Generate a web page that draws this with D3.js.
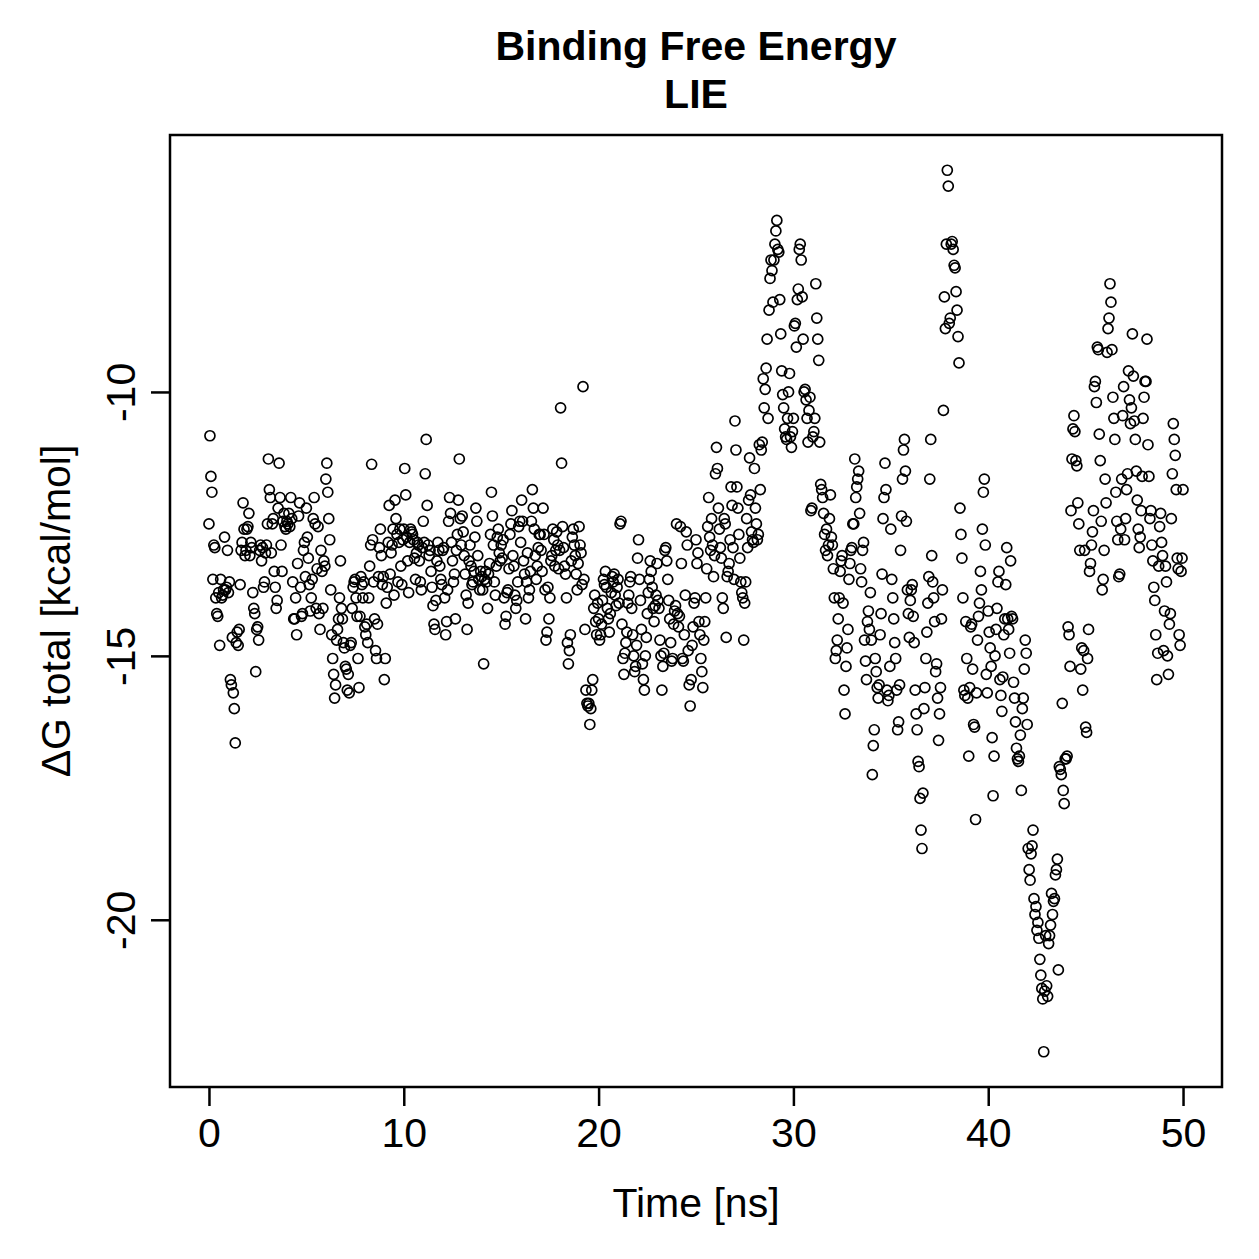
<!DOCTYPE html>
<html>
<head>
<meta charset="utf-8">
<script src="https://cdn.jsdelivr.net/npm/d3@7"></script>
<style>
  body { margin: 0; background: #fff; }
  svg text { font-family: "Liberation Sans", Arial, Helvetica, sans-serif; }
</style>
</head>
<body>
<div id="chart"></div>
<script>
// sampling interval of the trajectory (ns)
const sampleStep = 0.05;
const xTicks = [0, 10, 20, 30, 40, 50];
const yTicks = [-10, -15, -20];

// LIE total binding free energy per frame (kcal/mol), one row per ns
const deltaG = [
  -12.5, -10.83, -11.6, -11.9, -13.55, -12.9, -12.95, -13.9, -14.2, -14.25, -13.8, -14.8, -13.55, -13.9, -13.85, -13.75, -12.75, -13.75, -13.7, -13.0,
  -13.8, -13.6, -15.45, -15.55, -14.65, -15.7, -16.0, -16.65, -14.75, -14.55, -14.8, -14.5, -13.65, -13.0, -12.85, -12.1, -12.6, -13.1, -13.0, -12.6,
  -12.55, -12.3, -13.1, -12.85, -12.95, -13.8, -14.1, -14.2, -15.3, -14.5, -14.45, -14.7, -13.0, -12.9, -13.2, -12.95, -13.7, -13.6, -13.05, -12.9,
  -12.5, -11.27, -11.85, -12.0, -13.05, -12.5, -12.4, -13.4, -13.7, -14.1, -13.95, -12.2, -11.35, -12.0, -12.9, -13.4, -12.45, -12.3, -12.55, -12.6,
  -12.45, -12.5, -12.3, -12.55, -12.0, -12.4, -13.6, -14.3, -14.3, -13.9, -14.6, -13.25, -12.35, -12.1, -13.7, -14.25, -14.2, -13.0, -12.85, -13.5,
  -12.2, -12.75, -13.15, -13.65, -14.15, -13.9, -13.55, -12.4, -12.0, -12.5, -14.1, -13.35, -12.55, -14.2, -14.5, -13.0, -13.4, -14.1, -13.2, -13.3,
  -11.65, -11.35, -11.9, -12.4, -12.8, -13.75, -14.6, -15.05, -15.35, -15.8, -15.55, -14.7, -14.5, -14.3, -13.9, -13.2, -14.1, -14.3, -14.75, -14.85,
  -15.2, -15.25, -15.65, -15.35, -15.7, -14.8, -14.75, -14.1, -13.7, -13.6, -13.55, -13.9, -14.25, -15.05, -15.6, -14.25, -13.5, -13.65, -13.9, -13.6,
  -14.45, -14.6, -14.4, -14.75, -13.9, -13.3, -12.9, -11.37, -12.8, -13.6, -14.3, -14.9, -15.05, -14.4, -13.5, -12.95, -12.6, -13.1, -13.65, -13.5,
  -15.45, -15.05, -14.0, -13.7, -12.85, -12.15, -13.45, -13.05, -12.9, -12.6, -13.85, -12.05, -12.4, -12.7, -13.6, -12.85, -12.6, -13.3, -13.65, -12.8,
  -12.6, -11.45, -11.95, -12.75, -13.2, -13.8, -12.85, -12.6, -12.65, -12.7, -12.8, -13.15, -13.55, -13.05, -12.85, -12.9, -13.2, -13.6, -13.75, -12.95,
  -12.45, -12.85, -11.55, -10.9, -12.15, -12.9, -13.1, -13.0, -13.4, -13.7, -14.05, -14.4, -14.5, -13.95, -13.2, -12.85, -13.0, -13.3, -13.55, -13.65,
  -13.0, -12.95, -13.9, -14.6, -14.35, -13.75, -12.45, -12.0, -12.3, -12.85, -13.2, -13.6, -13.45, -14.3, -13.0, -12.7, -12.05, -11.27, -12.4, -12.9,
  -12.35, -12.65, -13.1, -13.45, -13.85, -14.5, -14.0, -13.2, -12.9, -13.3, -13.65, -13.6, -13.4, -12.75, -12.2, -12.45, -13.1, -13.55, -13.75, -13.4,
  -13.5, -13.75, -15.15, -13.55, -13.4, -13.6, -14.1, -13.45, -13.25, -12.7, -11.9, -12.35, -12.9, -13.6, -13.85, -13.3, -12.75, -12.6, -13.05, -13.2,
  -12.9, -13.15, -12.8, -13.9, -14.4, -14.25, -13.8, -13.75, -13.35, -12.7, -12.5, -12.25, -13.1, -13.3, -13.85, -14.1, -13.95, -13.6, -12.55, -12.45,
  -12.85, -12.05, -12.45, -13.2, -13.45, -14.3, -13.6, -13.05, -13.9, -13.75, -13.4, -12.45, -11.85, -12.2, -12.6, -13.1, -13.55, -13.3, -12.95, -12.7,
  -12.7, -13.0, -13.4, -12.2, -12.7, -13.75, -14.7, -14.55, -13.7, -14.3, -13.9, -13.2, -13.1, -12.6, -12.8, -13.3, -13.0, -12.65, -12.9, -13.35,
  -13.0, -10.3, -11.35, -12.55, -12.95, -13.3, -13.45, -13.9, -14.75, -15.15, -14.9, -14.6, -13.2, -12.75, -12.6, -12.9, -13.1, -13.45, -13.75, -13.25,
  -12.55, -12.9, -13.05, -13.65, -9.9, -13.55, -14.5, -15.65, -15.9, -15.95, -15.9, -16.3, -16.0, -15.65, -15.45, -14.1, -13.85, -14.35, -14.6, -14.0,
  -14.3, -14.7, -14.6, -14.4, -13.95, -13.55, -13.65, -13.4, -13.7, -14.1, -14.3, -14.55, -14.2, -13.8, -13.5, -13.6, -13.45, -13.85, -14.05, -13.7,
  -13.55, -14.0, -12.5, -12.45, -14.4, -15.05, -15.35, -14.95, -14.75, -14.55, -14.0, -13.85, -13.6, -13.5, -14.1, -14.6, -15.0, -15.3, -15.2, -14.8,
  -13.15, -12.8, -13.55, -13.95, -14.5, -15.15, -15.45, -15.65, -15.0, -14.65, -14.2, -13.8, -13.55, -13.2, -13.4, -13.7, -14.1, -14.35, -14.05, -13.85,
  -13.25, -13.95, -14.1, -14.7, -15.0, -15.65, -15.2, -14.95, -13.0, -12.95, -13.2, -13.55, -13.95, -14.3, -14.75, -15.1, -15.05, -14.4, -14.15, -14.05,
  -12.5, -14.2, -14.45, -14.25, -12.55, -13.25, -15.05, -15.1, -14.6, -13.85, -12.65, -12.9, -14.9, -15.55, -15.95, -15.45, -14.8, -14.45, -14.0, -13.9,
  -12.8, -13.25, -13.05, -14.35, -14.6, -15.05, -15.3, -15.6, -14.7, -14.35, -13.9, -13.35, -12.55, -12.0, -12.75, -13.0, -12.4, -12.9, -13.5, -13.1,
  -11.55, -11.05, -11.45, -12.2, -12.6, -12.95, -13.15, -13.9, -14.1, -12.4, -12.5, -14.65, -13.5, -13.4, -13.25, -12.8, -11.8, -12.15, -12.95, -13.55,
  -10.55, -11.1, -11.8, -12.2, -12.7, -13.15, -13.6, -13.8, -13.9, -14.7, -14.0, -13.6, -12.4, -12.95, -12.05, -11.25, -11.95, -12.65, -12.8, -12.85,
  -11.45, -12.2, -12.5, -12.8, -12.7, -11.0, -11.85, -11.1, -10.95, -9.75, -10.3, -9.95, -9.55, -9.0, -10.5, -8.45, -7.85, -7.5, -7.7, -8.3,
  -7.5, -7.2, -6.95, -6.75, -7.3, -7.35, -8.25, -8.9, -9.6, -10.05, -10.3, -10.7, -10.85, -10.9, -10.5, -10.0, -9.65, -10.85, -11.05, -10.75,
  -10.5, -8.75, -8.7, -9.15, -8.25, -8.05, -7.3, -7.2, -7.5, -8.2, -9.0, -10.0, -9.95, -10.15, -10.5, -10.95, -10.35, -10.1, -12.25, -12.2,
  -10.85, -10.75, -10.5, -7.95, -8.6, -9.0, -9.4, -10.95, -11.75, -11.85, -12.0, -12.3, -12.7, -13.0, -12.6, -13.1, -12.9, -12.4, -11.95, -12.75,
  -12.9, -13.35, -13.9, -15.05, -14.9, -14.7, -14.3, -13.9, -13.4, -13.2, -13.1, -14.0, -15.65, -16.1, -15.2, -14.85, -14.5, -13.55, -13.25, -13.0,
  -12.95, -12.5, -12.5, -11.27, -12.0, -11.8, -11.65, -11.5, -12.3, -13.35, -13.6, -13.0, -12.85, -14.7, -15.1, -15.45, -14.35, -14.15, -14.5, -13.8,
  -14.7, -17.25, -16.7, -16.4, -15.05, -15.3, -15.6, -15.8, -15.55, -14.6, -14.2, -13.45, -12.4, -12.0, -11.35, -11.85, -15.65, -15.85, -15.75, -15.2,
  -12.6, -13.55, -13.9, -14.3, -14.75, -15.05, -15.65, -16.4, -16.25, -15.55, -13.0, -12.35, -11.65, -11.1, -10.9, -11.5, -12.45, -13.75, -14.2, -14.65,
  -13.95, -13.75, -13.65, -14.25, -14.75, -15.65, -16.1, -16.4, -17.0, -17.1, -17.7, -18.3, -18.65, -17.6, -16.0, -15.6, -15.05, -14.55, -14.0, -13.5,
  -11.65, -10.9, -13.1, -13.6, -13.9, -14.35, -15.3, -15.15, -15.8, -16.6, -16.1, -15.6, -14.3, -13.75, -10.35, -8.2, -8.8, -7.2, -5.8, -6.1,
  -8.7, -8.6, -7.2, -7.15, -7.3, -7.6, -7.65, -8.1, -8.45, -8.95, -9.45, -12.2, -12.7, -13.15, -13.9, -15.65, -15.75, -14.35, -15.05, -15.8,
  -16.9, -15.6, -14.45, -14.4, -15.25, -16.3, -16.35, -18.1, -15.7, -14.7, -14.25, -14.0, -13.4, -13.75, -12.6, -11.9, -11.65, -12.9, -15.35, -15.7,
  -14.15, -14.55, -14.85, -15.2, -16.55, -17.65, -16.9, -15.0, -14.5, -14.1, -13.6, -13.4, -15.45, -15.75, -16.05, -15.4, -14.6, -14.3, -13.65, -12.95,
  -14.3, -14.5, -14.95, -13.2, -14.25, -14.3, -15.5, -15.8, -16.25, -16.75, -16.95, -17.0, -16.9, -16.5, -17.55, -16.0, -15.8, -15.25, -14.7, -14.95,
  -16.3, -18.65, -19.05, -19.25, -18.75, -18.6, -18.3, -19.6, -19.9, -19.75, -20.2, -20.05, -20.35, -20.75, -21.05, -21.3, -21.5, -22.5, -21.35, -20.3,
  -21.25, -21.45, -20.45, -20.3, -20.1, -19.5, -19.9, -19.65, -19.6, -19.15, -19.05, -18.85, -20.95, -17.1, -17.15, -17.25, -15.9, -17.55, -17.8, -16.95,
  -16.95, -16.9, -14.45, -14.6, -15.2, -12.25, -11.27, -10.7, -10.45, -10.75, -11.3, -11.4, -12.1, -12.5, -13.0, -15.25, -14.85, -15.65, -14.9, -13.0,
  -16.35, -16.45, -15.05, -14.5, -13.4, -13.25, -12.9, -12.65, -12.25, -9.9, -9.8, -10.2, -9.15, -9.2, -10.8, -11.3, -12.45, -13.75, -13.55, -13.0,
  -11.65, -12.1, -9.25, -8.8, -8.6, -7.95, -8.3, -9.2, -10.1, -10.5, -10.9, -11.9, -12.45, -12.8, -13.5, -13.45, -12.6, -11.65, -10.45, -9.9,
  -12.8, -12.4, -11.85, -11.55, -9.6, -10.15, -10.6, -10.3, -8.9, -9.7, -10.55, -10.9, -11.5, -12.05, -12.6, -12.95, -12.75, -12.25, -11.6, -10.5,
  -10.1, -9.8, -9.8, -9.0, -11.0, -11.6, -12.4, -12.25, -12.9, -13.2, -13.7, -13.95, -14.6, -15.45, -14.95, -13.3, -12.55, -12.3, -12.85, -13.1,
  -14.9, -14.15, -13.3, -13.6, -15.0, -15.35, -14.4, -14.2, -12.4, -11.55, -10.6, -10.9, -11.2, -11.85, -13.15, -13.35, -14.6, -14.8, -13.4, -13.15,
  -11.85
];

const points = deltaG.map((g, i) => ({ t: i * sampleStep, g: g }));

const width = 1259;
const height = 1259;
const margin = { top: 135, right: 37, bottom: 172, left: 170 };
const fontSize = 41;

const svg = d3.select("#chart")
  .append("svg")
  .attr("width", width)
  .attr("height", height);

// R-style 4% padding around the data range
const tExt = d3.extent(points, d => d.t);
const gExt = d3.extent(points, d => d.g);
const tPad = (tExt[1] - tExt[0]) * 0.04;
const gPad = (gExt[1] - gExt[0]) * 0.04;

const x = d3.scaleLinear()
  .domain([tExt[0] - tPad, tExt[1] + tPad])
  .range([margin.left, width - margin.right]);

const y = d3.scaleLinear()
  .domain([gExt[0] - gPad, gExt[1] + gPad])
  .range([height - margin.bottom, margin.top]);

// points
svg.append("g")
  .selectAll("circle")
  .data(points)
  .join("circle")
  .attr("cx", d => x(d.t))
  .attr("cy", d => y(d.g))
  .attr("r", 5)
  .attr("fill", "none")
  .attr("stroke", "#000")
  .attr("stroke-width", 1.7);

// box
svg.append("rect")
  .attr("x", margin.left)
  .attr("y", margin.top)
  .attr("width", width - margin.left - margin.right)
  .attr("height", height - margin.top - margin.bottom)
  .attr("fill", "none")
  .attr("stroke", "#000")
  .attr("stroke-width", 2.5);

// x axis
const xAxis = svg.append("g")
  .attr("transform", `translate(0,${height - margin.bottom})`)
  .call(d3.axisBottom(x).tickValues(xTicks).tickSize(19).tickPadding(12).tickFormat(d => String(d)));
xAxis.select(".domain").remove();
xAxis.selectAll("line").attr("stroke", "#000").attr("stroke-width", 2.5);
xAxis.selectAll("text")
  .attr("font-size", fontSize)
  .attr("font-family", "Liberation Sans, Arial, sans-serif")
  .attr("fill", "#000");

// y axis
const yAxis = svg.append("g")
  .attr("transform", `translate(${margin.left},0)`)
  .call(d3.axisLeft(y).tickValues(yTicks).tickSize(19).tickFormat(d => String(d)));
yAxis.select(".domain").remove();
yAxis.selectAll("line").attr("stroke", "#000").attr("stroke-width", 2.5);
yAxis.selectAll("text")
  .attr("x", null)
  .attr("dy", null)
  .attr("transform", "translate(-35,0) rotate(-90)")
  .attr("text-anchor", "middle")
  .attr("font-size", fontSize)
  .attr("font-family", "Liberation Sans, Arial, sans-serif")
  .attr("fill", "#000");

// titles
const cx = (margin.left + width - margin.right) / 2;
svg.append("text")
  .attr("x", cx)
  .attr("y", 60)
  .attr("text-anchor", "middle")
  .attr("font-weight", "bold")
  .attr("font-size", fontSize)
  .text("Binding Free Energy");
svg.append("text")
  .attr("x", cx)
  .attr("y", 108)
  .attr("text-anchor", "middle")
  .attr("font-weight", "bold")
  .attr("font-size", fontSize)
  .text("LIE");

svg.append("text")
  .attr("x", cx)
  .attr("y", 1217)
  .attr("text-anchor", "middle")
  .attr("font-size", fontSize)
  .text("Time [ns]");

const cy = (margin.top + height - margin.bottom) / 2;
svg.append("text")
  .attr("transform", `translate(70,${cy}) rotate(-90)`)
  .attr("text-anchor", "middle")
  .attr("font-size", fontSize)
  .text("ΔG total [kcal/mol]");
</script>
</body>
</html>
